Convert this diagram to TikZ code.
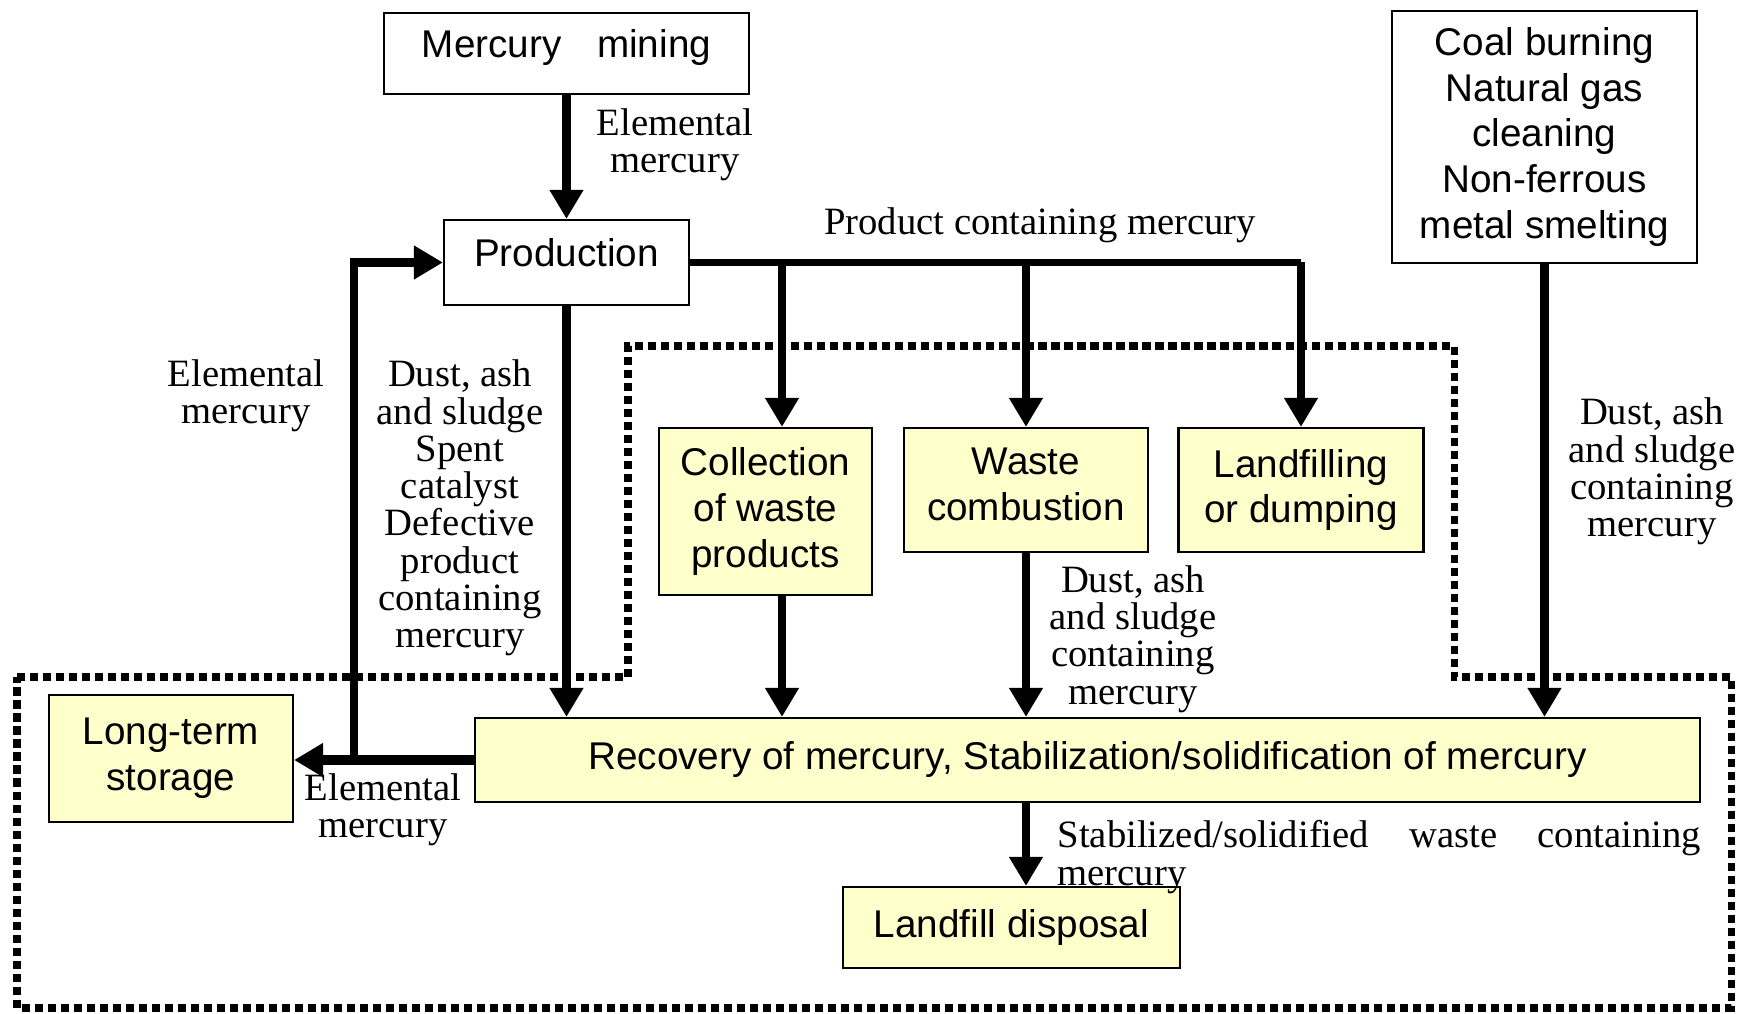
\documentclass[tikz,border=0pt]{standalone}
\usepackage{fontspec}
\setmainfont{Liberation Serif}
\newfontfamily\boxfont{Liberation Sans}
\usepackage{tikz}
\usetikzlibrary{positioning,arrows.meta}
\definecolor{stepfill}{RGB}{255,255,204}

\begin{document}
\begin{tikzpicture}[
        box/.style={draw, line width=0.6pt, align=center, inner sep=0pt, font=\boxfont\fontsize{11}{13}\selectfont},
        ybox/.style={box, fill=stepfill},
        flow/.style={line width=2.3pt, -{Triangle[length=2.9mm,width=3.2mm]}},
        lbl/.style={align=center, inner sep=0pt, font=\fontsize{11}{10.6}\selectfont},
        zone/.style={line width=2pt, dash pattern=on 2.3pt off 1.4pt}
    ]
        \useasboundingbox (0,0) rectangle (17.46,-10.14);

        \draw[zone] (0.17,-6.77) -- (6.28,-6.77) -- (6.28,-3.46) -- (14.54,-3.46) -- (14.54,-6.77)
            -- (17.31,-6.77) -- (17.31,-10.08) -- (0.17,-10.08) -- cycle;

        \node[box, minimum width=3.65cm, minimum height=0.81cm, text depth=0.19cm] (mining) at (5.665,-0.535) {Mercury\hspace{2.5mm} mining};
        \node[box, minimum width=2.45cm, minimum height=0.85cm, text depth=0.19cm] (prod) at (5.665,-2.625) {Production};
        \node[box, minimum width=3.05cm, minimum height=2.52cm] (coal) at (15.445,-1.37) {Coal burning\\Natural gas\\cleaning\\Non-ferrous\\metal smelting};
        \node[ybox, minimum width=2.13cm, minimum height=1.67cm] (collect) at (7.655,-5.115) {Collection\\of waste\\products};
        \node[ybox, minimum width=2.44cm, minimum height=1.24cm, text depth=0.11cm] (burn) at (10.26,-4.9) {Waste\\combustion};
        \node[ybox, minimum width=2.45cm, minimum height=1.24cm] (dump) at (13.01,-4.9) {Landfilling\\or dumping};
        \node[ybox, minimum width=12.25cm, minimum height=0.84cm] (recov) at (10.875,-7.6) {Recovery of mercury, Stabilization/solidification of mercury};
        \node[ybox, minimum width=2.44cm, minimum height=1.27cm] (store) at (1.71,-7.585) {Long-term\\storage};
        \node[ybox, minimum width=3.37cm, minimum height=0.81cm] (disp) at (10.115,-9.275) {Landfill disposal};

        \node[lbl] (l1) at (6.75,-1.45) {Elemental\\mercury};
        \node[lbl] (l2) at (10.4,-2.255) {Product containing mercury};
        \node[lbl] (l3) at (2.46,-3.955) {Elemental\\mercury};
        \node[lbl] (l4) at (4.6,-5.08) {Dust, ash\\and sludge\\Spent\\catalyst\\Defective\\product\\containing\\mercury};
        \node[lbl] (l5) at (3.83,-8.1) {Elemental\\mercury};
        \node[lbl] (l6) at (11.33,-6.39) {Dust, ash\\and sludge\\containing\\mercury};
        \node[lbl] (l7) at (16.52,-4.715) {Dust, ash\\and sludge\\containing\\mercury};
        \node[lbl, align=left, anchor=north west] (l8) at (10.57,-8.2) {\makebox[6.43cm][s]{Stabilized/solidified waste containing}\\mercury};

        \coordinate (turn) at (3.54,-7.6);

        \draw[flow] (mining) -- (prod);
        \draw[line width=2pt] (prod.east) -- (prod.east -| dump.north);
        \foreach \t/\dx in {collect/1.65mm, burn/0mm, dump/0mm} {
            \draw[flow] ([xshift=\dx]\t.north |- prod.east) -- ([xshift=\dx]\t.north);
        }
        \draw[flow] (prod.south) -- (prod.south |- recov.north);
        \draw[flow] ([xshift=1.65mm]collect.south) -- ([xshift=1.65mm]collect.south |- recov.north);
        \draw[flow] (burn.south) -- (burn.south |- recov.north);
        \draw[flow] (coal.south) -- (coal.south |- recov.north);
        \draw[flow] (burn.south |- recov.south) -- (burn.south |- disp.north);
        \draw[flow, line width=2.8pt] (recov.west) -- (recov.west -| store.east);
        \draw[line width=2.3pt] (turn) -- (turn |- prod.west);
        \draw[flow, line width=2.8pt] ([xshift=-1.15pt]turn |- prod.west) -- (prod.west);
\end{tikzpicture}
\end{document}
